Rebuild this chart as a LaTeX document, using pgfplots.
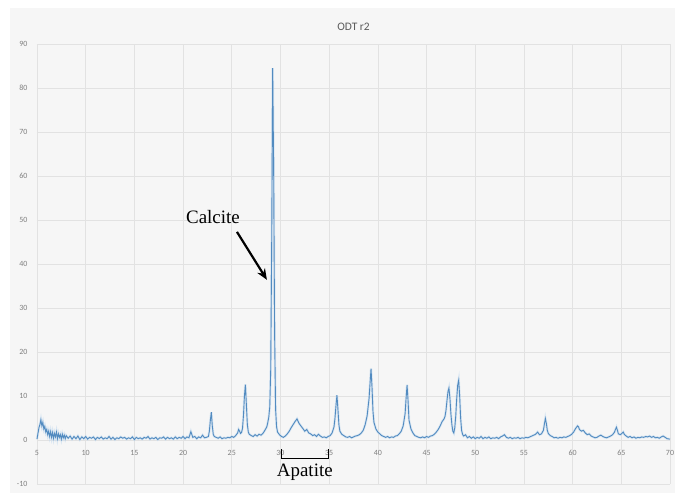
\documentclass[border=0pt]{standalone}
\usepackage{pgfplots}
\pgfplotsset{compat=1.18}
\usetikzlibrary{arrows.meta}
\usepackage{fontspec}
\setmainfont{Carlito}
\newfontfamily\tnr{Liberation Serif}

\definecolor{chartbg}{HTML}{F6F6F6}
\definecolor{gridcol}{HTML}{E2E2E2}
\definecolor{ticktext}{HTML}{808080}
\definecolor{titletext}{HTML}{595959}
\definecolor{xrdblue}{HTML}{5B9BD5}

\pgfplotstableread{
x y
5.0 0.2
5.1 1.5
5.2 2.8
5.3 3.5
5.4 4.6
5.5 3.2
5.6 4.0
5.7 2.5
5.8 3.1
5.9 1.8
6.0 2.4
6.1 1.2
6.2 2.0
6.3 0.8
6.4 1.9
6.5 0.6
6.6 1.7
6.7 0.4
6.8 1.5
6.9 0.7
7.0 1.8
7.1 0.3
7.2 1.4
7.3 0.6
7.4 1.2
7.5 0.2
7.6 1.3
7.7 0.5
7.8 1.1
7.9 0.3
8.0 1.0
8.2 0.4
8.4 0.9
8.6 0.2
8.8 0.8
9.0 0.3
9.2 0.9
9.4 0.1
9.6 0.7
9.8 0.3
10.0 0.8
10.2 0.2
10.4 0.6
10.6 0.4
10.8 0.7
11.0 0.1
11.2 0.6
11.4 0.3
11.6 0.7
11.8 0.2
12.0 0.5
12.2 0.3
12.4 0.8
12.6 0.2
12.8 0.6
13.0 0.1
13.2 0.5
13.4 0.3
13.6 0.7
13.8 0.4
14.0 0.6
14.2 0.2
14.4 0.5
14.6 0.3
14.8 0.7
15.0 0.1
15.2 0.6
15.4 0.3
15.6 0.5
15.8 0.2
16.0 0.6
16.2 0.4
16.4 0.8
16.6 0.2
16.8 0.5
17.0 0.3
17.2 0.6
17.4 0.1
17.6 0.5
17.8 0.4
18.0 0.7
18.2 0.2
18.4 0.6
18.6 0.3
18.8 0.5
19.0 0.2
19.2 0.7
19.4 0.3
19.6 0.6
19.8 0.4
20.0 0.8
20.2 0.3
20.4 0.7
20.6 0.5
20.8 1.9
21.0 0.6
21.2 0.8
21.4 0.3
21.6 0.7
21.8 0.5
22.0 1.1
22.2 0.5
22.4 0.6
22.6 0.8
22.7 2.0
22.8 4.5
22.9 6.3
23.0 3.2
23.1 1.3
23.2 0.8
23.4 0.6
23.6 0.4
23.8 0.7
24.0 0.3
24.2 0.5
24.4 0.4
24.6 0.6
24.8 0.5
25.0 0.8
25.2 0.6
25.4 1.0
25.6 1.6
25.7 2.4
25.8 2.0
25.9 1.5
26.0 1.7
26.1 2.6
26.2 5.5
26.3 10.0
26.4 12.6
26.5 8.0
26.6 3.5
26.7 1.8
26.8 1.3
27.0 1.0
27.2 0.8
27.4 1.2
27.6 0.9
27.8 1.3
28.0 1.1
28.2 1.5
28.4 2.2
28.6 3.0
28.7 4.0
28.8 5.2
28.9 7.5
29.0 16.0
29.1 45.0
29.2 84.5
29.3 62.0
29.4 24.0
29.5 7.0
29.6 3.0
29.7 1.8
29.9 1.2
30.1 0.8
30.3 0.6
30.5 0.9
30.7 1.4
30.9 2.0
31.1 2.8
31.3 3.5
31.5 4.2
31.7 4.8
31.8 4.3
31.9 3.8
32.1 3.2
32.3 2.6
32.5 2.0
32.7 2.4
32.9 1.6
33.1 1.4
33.3 1.0
33.5 1.2
33.7 0.8
33.9 1.3
34.1 0.9
34.3 0.6
34.5 0.7
34.7 0.5
34.9 0.8
35.1 1.0
35.3 1.6
35.5 3.0
35.6 5.0
35.7 7.8
35.8 10.2
35.9 7.0
36.0 3.5
36.1 2.0
36.3 1.3
36.5 1.0
36.7 0.7
36.9 0.6
37.1 0.8
37.3 0.5
37.5 0.7
37.7 0.9
37.9 1.0
38.1 1.2
38.3 1.6
38.5 2.2
38.7 3.5
38.9 5.5
39.1 9.5
39.2 13.0
39.3 16.2
39.4 12.0
39.5 6.5
39.6 4.0
39.8 2.5
40.0 1.8
40.2 1.4
40.4 1.0
40.6 0.8
40.8 0.6
41.0 0.8
41.2 0.5
41.4 0.7
41.6 0.6
41.8 0.9
42.0 1.0
42.2 1.4
42.4 2.0
42.6 3.2
42.8 6.0
42.9 9.5
43.0 12.5
43.1 9.0
43.2 4.5
43.4 2.5
43.6 1.6
43.8 1.0
44.0 0.8
44.2 0.6
44.4 0.5
44.6 0.7
44.8 0.5
45.0 0.8
45.2 0.6
45.4 0.9
45.6 1.0
45.8 1.3
46.0 1.8
46.2 2.4
46.4 3.2
46.6 4.2
46.8 4.8
46.9 5.4
47.0 6.8
47.1 9.0
47.2 11.0
47.3 11.8
47.4 9.5
47.5 6.0
47.6 3.5
47.7 2.0
47.8 1.6
47.9 2.8
48.0 5.5
48.1 9.5
48.2 12.5
48.3 13.6
48.4 10.0
48.5 5.0
48.6 2.2
48.7 1.3
48.8 0.9
49.0 1.2
49.2 0.5
49.4 0.8
49.6 0.4
49.8 0.7
50.0 0.3
50.2 0.6
50.4 0.4
50.6 0.8
50.8 0.3
51.0 0.6
51.2 0.4
51.4 0.7
51.6 0.3
51.8 0.5
52.0 0.4
52.2 0.6
52.4 0.3
52.6 0.7
52.8 0.9
53.0 1.2
53.2 0.6
53.4 0.4
53.6 0.6
53.8 0.3
54.0 0.5
54.2 0.4
54.4 0.6
54.6 0.3
54.8 0.5
55.0 0.4
55.2 0.6
55.4 0.5
55.6 0.7
55.8 0.9
56.0 1.1
56.2 1.3
56.4 1.8
56.5 1.5
56.6 1.2
56.8 1.4
57.0 2.2
57.1 3.6
57.2 4.9
57.3 3.8
57.4 2.2
57.5 1.5
57.7 1.0
57.9 0.8
58.1 0.5
58.3 0.6
58.5 0.4
58.7 0.6
58.9 0.5
59.1 0.7
59.3 0.6
59.5 0.8
59.7 1.0
59.9 1.3
60.1 1.8
60.3 2.6
60.5 3.2
60.6 3.0
60.7 2.4
60.9 2.0
61.1 2.2
61.3 1.6
61.5 1.2
61.7 1.4
61.9 0.9
62.1 0.7
62.3 0.5
62.5 0.6
62.7 0.9
62.9 1.1
63.1 0.8
63.3 0.6
63.5 0.5
63.7 0.7
63.9 0.9
64.1 1.2
64.3 1.8
64.4 2.4
64.5 2.9
64.6 2.2
64.7 1.4
64.9 1.2
65.1 1.6
65.2 1.8
65.3 1.3
65.5 0.9
65.7 0.6
65.9 0.8
66.1 0.5
66.3 0.7
66.5 0.4
66.7 0.6
66.9 0.5
67.1 0.7
67.3 0.6
67.5 0.8
67.7 0.7
67.9 0.9
68.1 0.6
68.3 0.8
68.5 0.5
68.7 0.6
68.9 0.4
69.1 0.7
69.3 0.9
69.5 0.6
69.7 0.3
70.0 0.2
}\odtdata

\begin{document}
\begin{tikzpicture}[x=1bp,y=1bp]
  % chart area background and page frame
  \path[use as bounding box] (-37,-9) rectangle (638,484);
  \fill[chartbg] (-27,-9) rectangle (638,476);
  \begin{axis}[
    at={(0,0)}, anchor=south west,
    scale only axis,
    width=633bp, height=440bp,
    xmin=5, xmax=70, ymin=-10, ymax=90,
    xtick={5,10,...,70},
    ytick={-10,0,...,90},
    grid=major,
    major grid style={gridcol, line width=0.6bp},
    major tick length=0pt,
    axis line style={draw=none},
    axis background/.style={fill=chartbg},
    /pgf/number format/assume math mode=true,
    ticklabel style={font=\fontsize{8}{9}\selectfont, text=ticktext},
    xticklabel style={anchor=center, yshift=31bp},
    yticklabel style={xshift=-6bp},
    title={ODT r2},
    title style={font=\fontsize{11.5}{13}\selectfont, text=titletext, yshift=4bp},
    clip=false,
  ]
    \addplot[xrdblue!35, line width=2.4bp, opacity=0.6] table[x=x, y=y] {\odtdata};
    \addplot[xrdblue!90!black, line width=0.9bp] table[x=x, y=y] {\odtdata};

    % annotation of the main calcite reflection
    \node[font=\tnr\fontsize{19}{21}\selectfont] at (axis cs:23.07,50.7) {Calcite};
    \draw[line width=2.2bp, -{Stealth[length=11bp, width=9bp]}]
      (axis cs:25.53,47.3) -- (axis cs:28.61,36.4);

    % bracket marking the apatite range
    \draw[line width=1.1bp] (axis cs:30.15,-2.05) -- (axis cs:30.15,-4.3)
      -- (axis cs:34.9,-4.3) -- (axis cs:34.9,-2.05);
    \node[font=\tnr\fontsize{19}{21}\selectfont] at (axis cs:32.5,-7.3) {Apatite};
  \end{axis}
\end{tikzpicture}
\end{document}
